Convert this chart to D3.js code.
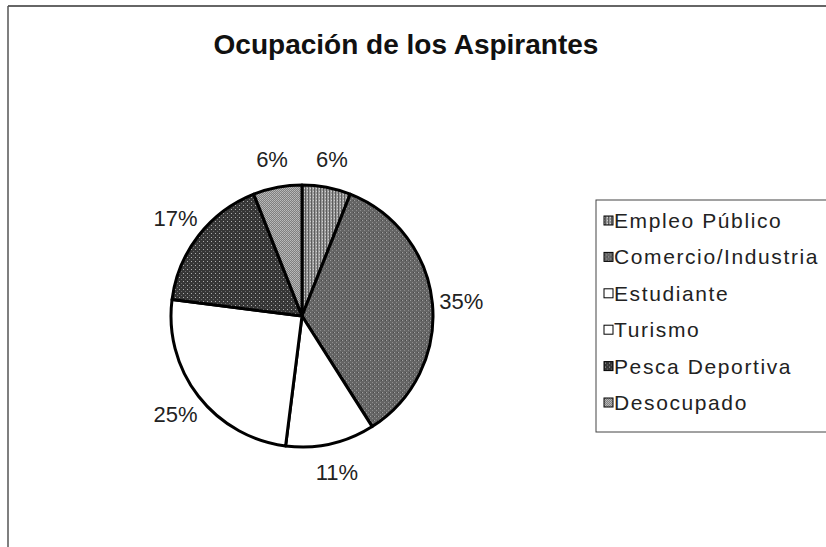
<!DOCTYPE html>
<html>
<head>
<meta charset="utf-8">
<script src="https://cdn.jsdelivr.net/npm/d3@7"></script>
<style>
  body { margin: 0; background: #fff; }
  text { font-family: "Liberation Sans", Arial, sans-serif; }
</style>
</head>
<body>
<script>
// data
var categories = ["Empleo Público", "Comercio/Industria", "Estudiante", "Turismo", "Pesca Deportiva", "Desocupado"];
var values = [6, 35, 11, 25, 17, 6];
var title = "Ocupación de los Aspirantes";

var fills = ["url(#pEmpleo)", "url(#pComercio)", "#ffffff", "#ffffff", "url(#pPesca)", "url(#pDesocupado)"];

var width = 826, height = 547;
var cx = 302, cy = 316, radius = 131;

var svg = d3.select("body")
    .append("svg")
    .attr("width", width)
    .attr("height", height);

// textures, rough imitation of the printed fills
var defs = svg.append("defs");

function makePattern(id, w, h, bg, dots){
    var p = defs.append("pattern")
        .attr("id", id)
        .attr("patternUnits", "userSpaceOnUse")
        .attr("width", w)
        .attr("height", h);
    p.append("rect").attr("width", w).attr("height", h).attr("fill", bg);
    dots.forEach(function(d){
        p.append("rect")
            .attr("x", d[0]).attr("y", d[1])
            .attr("width", d[2]).attr("height", d[3])
            .attr("fill", d[4]);
    });
}
makePattern("pEmpleo", 3, 3, "#9a9a9a", [[0, 0, 1, 3, "#5c5c5c"], [2, 1, 1, 1, "#d0d0d0"]]);
makePattern("pComercio", 4, 4, "#656565", [[0, 0, 1, 1, "#a0a0a0"], [2, 2, 1, 1, "#8c8c8c"], [3, 0, 1, 1, "#4a4a4a"]]);
makePattern("pPesca", 4, 4, "#363636", [[1, 1, 1, 1, "#b0b0b0"], [3, 3, 1, 1, "#6a6a6a"]]);
makePattern("pDesocupado", 2, 2, "#808080", [[0, 0, 1, 1, "#bcbcbc"], [1, 1, 1, 1, "#b0b0b0"]]);

// chart frame (right and bottom sides fall off the picture)
svg.append("line")
    .attr("x1", 8).attr("y1", 6).attr("x2", width).attr("y2", 6)
    .attr("stroke", "#333").attr("stroke-width", 1.5);
svg.append("line")
    .attr("x1", 8).attr("y1", 6).attr("x2", 8).attr("y2", height)
    .attr("stroke", "#555").attr("stroke-width", 1.5);

// title
svg.append("text")
    .attr("x", 406)
    .attr("y", 54)
    .attr("text-anchor", "middle")
    .attr("font-size", 28)
    .attr("font-weight", "bold")
    .attr("fill", "#111")
    .text(title);

// pie
var pie = d3.pie().sort(null).value(function(d){ return d; });
var arcs = pie(values);
var arc = d3.arc().innerRadius(0).outerRadius(radius);
var labelArc = d3.arc().innerRadius(160).outerRadius(160);

var g = svg.append("g").attr("transform", "translate(" + cx + "," + cy + ")");

g.selectAll("path.slice")
    .data(arcs)
    .enter()
    .append("path")
    .attr("class", "slice")
    .attr("d", arc)
    .attr("fill", function(d, i){ return fills[i]; })
    .attr("stroke", "#000")
    .attr("stroke-width", 3)
    .attr("stroke-linejoin", "round");

g.selectAll("text.pct")
    .data(arcs)
    .enter()
    .append("text")
    .attr("class", "pct")
    .attr("transform", function(d){ return "translate(" + labelArc.centroid(d) + ")"; })
    .attr("text-anchor", "middle")
    .attr("dy", "0.36em")
    .attr("font-size", 22)
    .attr("fill", "#222")
    .text(function(d){ return d3.format(".0%")(d.data / d3.sum(values)); });

// legend
var legend = svg.append("g").attr("transform", "translate(596,200)");
legend.append("rect")
    .attr("x", 0).attr("y", 0)
    .attr("width", 240).attr("height", 232)
    .attr("fill", "#fff")
    .attr("stroke", "#444")
    .attr("stroke-width", 1);

var rowY = d3.scalePoint().domain(categories).range([28, 210]);

var rows = legend.selectAll("g.row")
    .data(categories)
    .enter()
    .append("g")
    .attr("class", "row")
    .attr("transform", function(d){ return "translate(0," + rowY(d) + ")"; });

rows.append("rect")
    .attr("x", 8).attr("y", -12)
    .attr("width", 9).attr("height", 9)
    .attr("fill", function(d, i){ return fills[i]; })
    .attr("stroke", "#000")
    .attr("stroke-width", 1);

rows.append("text")
    .attr("x", 18)
    .attr("y", 0)
    .attr("font-size", 21)
    .attr("letter-spacing", 1.6)
    .attr("fill", "#222")
    .text(function(d){ return d; });
</script>
</body>
</html>
